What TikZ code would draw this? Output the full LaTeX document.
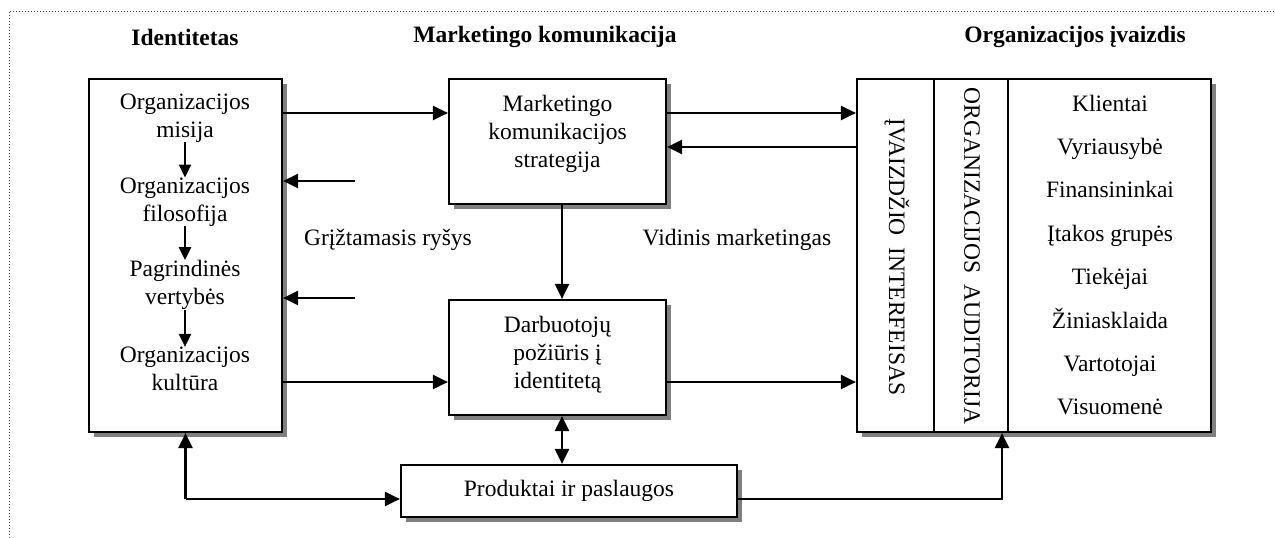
\documentclass[tikz,border=0pt]{standalone}
\usepackage{fontspec}
\setmainfont{Liberation Serif}
\usetikzlibrary{arrows.meta}
\begin{document}
\begin{tikzpicture}[x=1pt,y=-1pt,
  every node/.style={font=\fontsize{23.5}{28}\selectfont, inner sep=0pt, align=center},
  box/.style={draw, line width=2.2pt, fill=white, inner sep=0pt},
  shadowbox/.style={fill=black!50, draw=none},
  arr/.style={line width=2.2pt, -{Triangle[length=15pt,width=14pt]}},
  darr/.style={line width=2.2pt, {Triangle[length=15pt,width=14pt]}-{Triangle[length=15pt,width=14pt]}},
  sarr/.style={line width=2.2pt, -{Triangle[length=13pt,width=12pt]}},
  ttl/.style={font=\bfseries\fontsize{23.5}{28}\selectfont}]
\useasboundingbox (0,0) rectangle (1275,538);
% dotted frame (only top and left visible)
\draw[dotted, line width=1pt, black!70] (9,538) -- (9,11) -- (1275,11);
% titles
\node[ttl] (tI) at (185,37) {Identitetas};
\node[ttl] (tM) at (545,37) {Marketingo komunikacija};
\node[ttl] (tO) at (1075,37) {Organizacijos įvaizdis};
% shadows
\fill[shadowbox] (94,84) rectangle (287,437);
\fill[shadowbox] (454,84) rectangle (671,209);
\fill[shadowbox] (454,305) rectangle (671,420);
\fill[shadowbox] (406,470) rectangle (742,522);
\fill[shadowbox] (862,84) rectangle (1216,437);
% boxes
\node[box, minimum width=193pt, minimum height=353pt] (ident) at (185.5,255.5) {};
\node[box, minimum width=217pt, minimum height=125pt] (mk) at (557.5,141.5) {};
\node[box, minimum width=217pt, minimum height=115pt] (darb) at (557.5,357.5) {};
\node[box, minimum width=336pt, minimum height=52pt] (prod) at (569,491) {Produktai ir paslaugos};
\node[box, minimum width=354pt, minimum height=353pt] (org) at (1034,255.5) {};
\draw[line width=2.2pt] (org.north -| 934,0) -- (org.south -| 934,0);
\draw[line width=2.2pt] (org.north -| 1008,0) -- (org.south -| 1008,0);
% left box text
\node (l1) at (185,118) {Organizacijos\\misija};
\node (l2) at (185,202) {Organizacijos\\filosofija};
\node (l3) at (185,285) {Pagrindinės\\vertybės};
\node (l4) at (185,369) {Organizacijos\\kultūra};
\draw[sarr] (l1.south) -- (l2.north);
\draw[sarr] (l2.south) -- (l3.north);
\draw[sarr] (l3.south) -- (l4.north);
% middle text
\node (mkt) at (557.5,134) {Marketingo\\komunikacijos\\strategija};
\node (dbt) at (557.5,355) {Darbuotojų\\požiūris į\\identitetą};
\node (gr) at (388,240) {Grįžtamasis ryšys};
\node (vm) at (737,240) {Vidinis marketingas};
% rotated texts
\node[rotate=-90] (iv) at (897,257) {ĮVAIZDŽIO\ \ INTERFEISAS};
\node[rotate=-90] (oa) at (972,256) {ORGANIZACIJOS\ \ AUDITORIJA};
% list
\foreach \t [count=\i] in {Klientai,Vyriausybė,Finansininkai,Įtakos grupės,Tiekėjai,Žiniasklaida,Vartotojai,Visuomenė}
  \node[anchor=base] (r\i) at (1110,{111+43.4*(\i-1)}) {\t};
% free ends
\coordinate (f1) at (355,181);
\coordinate (f2) at (355,298);
\coordinate (loop) at (185.5,499);
\coordinate (pr) at (1002,499);
% connectors
\draw[arr] (ident.east |- 0,113) -- (mk.west |- 0,113);
\draw[arr] (ident.east |- 0,382) -- (darb.west |- 0,382);
\draw[arr] (f1) -- (ident.east |- f1);
\draw[arr] (f2) -- (ident.east |- f2);
\draw[arr] (mk.east |- 0,113) -- (org.west |- 0,113);
\draw[arr] (org.west |- 0,147) -- (mk.east |- 0,147);
\draw[arr] (darb.east |- 0,382) -- (org.west |- 0,382);
\draw[arr] (mk.south -| 562,0) -- (darb.north -| 562,0);
\draw[darr] (darb.south -| 562,0) -- (prod.north -| 562,0);
\draw[arr] (loop) -- (ident.south);
\draw[arr] (loop) -- (prod.west |- loop);
\draw[arr] (prod.east |- pr) -- (pr) -- (org.south -| pr);
\end{tikzpicture}
\end{document}
